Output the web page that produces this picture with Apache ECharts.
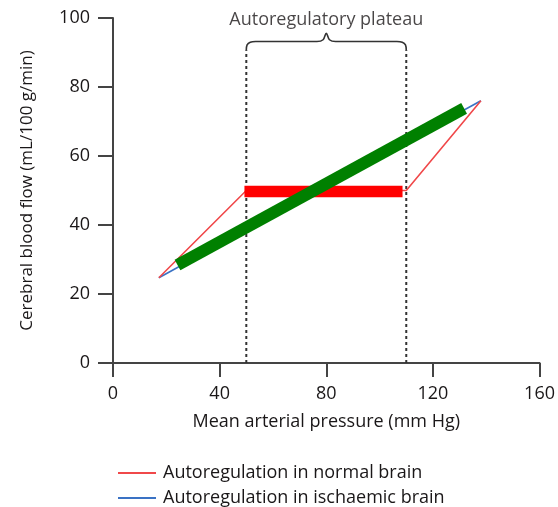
<!DOCTYPE html>
<html>
<head>
<meta charset="utf-8">
<script src="https://cdn.jsdelivr.net/npm/echarts@6/dist/echarts.min.js"></script>
<style>
html,body{margin:0;padding:0;background:#fff;}
#chart{width:558px;height:507px;}
</style>
</head>
<body>
<div id="chart"></div>
<script>
// x ticks and y ticks
var xTicks = [0, 40, 80, 120, 160];
var yTicks = [0, 20, 40, 60, 80, 100];

// Autoregulation in normal brain (thin red)
var normalBrain = [[17.2, 24.7], [50, 50], [110, 50], [138, 76]];
// Autoregulation in ischaemic brain (thin blue)
var ischaemicBrain = [[17.2, 24.7], [138, 76]];
// Thick green band (ischaemic, pressure-passive)
var ischaemicBand = [[24.2, 28.4], [131.7, 73.8]];
// Thick red plateau
var normalPlateau = [[49.3, 49.7], [108.6, 49.7]];
// Plateau limits (dashed)
var plateauLeft = [[50, 0], [50, 90.7]];
var plateauRight = [[110, 0], [110, 90.7]];
// Curly brace over plateau
var brace = [[50, 90.7], [50.3, 92.2], [51.5, 93.0], [53.5, 93.2], [76.5, 93.2], [78.8, 93.7], [80, 95.6], [81.2, 93.7], [83.5, 93.2], [106.5, 93.2], [108.5, 93.0], [109.7, 92.2], [110, 90.7]];
var plateauLabel = [[80, 99.4]];

var legendNames = ['Autoregulation in normal brain', 'Autoregulation in ischaemic brain'];
var FONT = 'Open Sans';
var TXT = '#1a1718';

function legendAt(name, top) {
  return {
    data: [name],
    orient: 'vertical',
    left: 113,
    top: top,
    itemWidth: 38,
    itemHeight: 14,
    icon: 'path://M0,0 L38,0 L38,1.8 L0,1.8 Z',
    textStyle: {fontFamily: FONT, fontSize: 18, color: TXT, padding: [0, 0, 0, 2]}
  };
}

var chart = echarts.init(document.getElementById('chart'), null, {renderer: 'canvas'});
chart.setOption({
  animation: false,
  backgroundColor: '#fff',
  grid: {left: 113, right: 11, top: 18, bottom: 144, containLabel: false},
  legend: [legendAt(legendNames[0], 459), legendAt(legendNames[1], 484)],
  xAxis: {
    type: 'value', min: xTicks[0], max: xTicks[xTicks.length - 1], interval: 40,
    name: 'Mean arterial pressure (mm Hg)', nameLocation: 'middle', nameGap: 50,
    nameTextStyle: {fontFamily: FONT, fontSize: 18, color: TXT},
    axisLine: {show: true, onZero: false, lineStyle: {color: '#444', width: 2}},
    axisTick: {show: true, length: 14, lineStyle: {color: '#444', width: 2}},
    axisLabel: {fontFamily: FONT, fontSize: 18, color: TXT, margin: 22},
    splitLine: {show: false}
  },
  yAxis: {
    type: 'value', min: yTicks[0], max: yTicks[yTicks.length - 1], interval: 20,
    name: 'Cerebral blood flow (mL/100 g/min)', nameLocation: 'middle', nameGap: 77,
    nameTextStyle: {fontFamily: FONT, fontSize: 17, color: TXT},
    axisLine: {show: true, onZero: false, lineStyle: {color: '#444', width: 2}},
    axisTick: {show: true, length: 15, lineStyle: {color: '#444', width: 2}},
    axisLabel: {fontFamily: FONT, fontSize: 18, color: TXT, margin: 23},
    splitLine: {show: false}
  },
  series: [
    {type: 'line', data: plateauLeft, symbol: 'none', silent: true,
     lineStyle: {color: '#333', width: 2, type: [3, 3]}},
    {type: 'line', data: plateauRight, symbol: 'none', silent: true,
     lineStyle: {color: '#333', width: 2, type: [3, 3]}},
    {type: 'line', data: brace, symbol: 'none', smooth: 0.35, silent: true,
     lineStyle: {color: '#333', width: 1.6}},
    {type: 'scatter', data: plateauLabel, symbolSize: 0, silent: true,
     label: {show: true, position: 'inside', formatter: 'Autoregulatory plateau',
             fontFamily: FONT, fontSize: 18, color: TXT}},
    {name: legendNames[1], type: 'line', data: ischaemicBrain, symbol: 'none',
     lineStyle: {color: '#3a72c4', width: 1.6}, itemStyle: {color: '#3a72c4'}},
    {name: legendNames[0], type: 'line', data: normalBrain, symbol: 'none',
     lineStyle: {color: '#f0484a', width: 1.6}, itemStyle: {color: '#f0484a'}},
    {type: 'line', data: normalPlateau, symbol: 'none', silent: true,
     lineStyle: {color: '#ff0000', width: 11.5, cap: 'butt'}},
    {type: 'line', data: ischaemicBand, symbol: 'none', silent: true,
     lineStyle: {color: '#008000', width: 12, cap: 'butt'}}
  ]
});
</script>
</body>
</html>
